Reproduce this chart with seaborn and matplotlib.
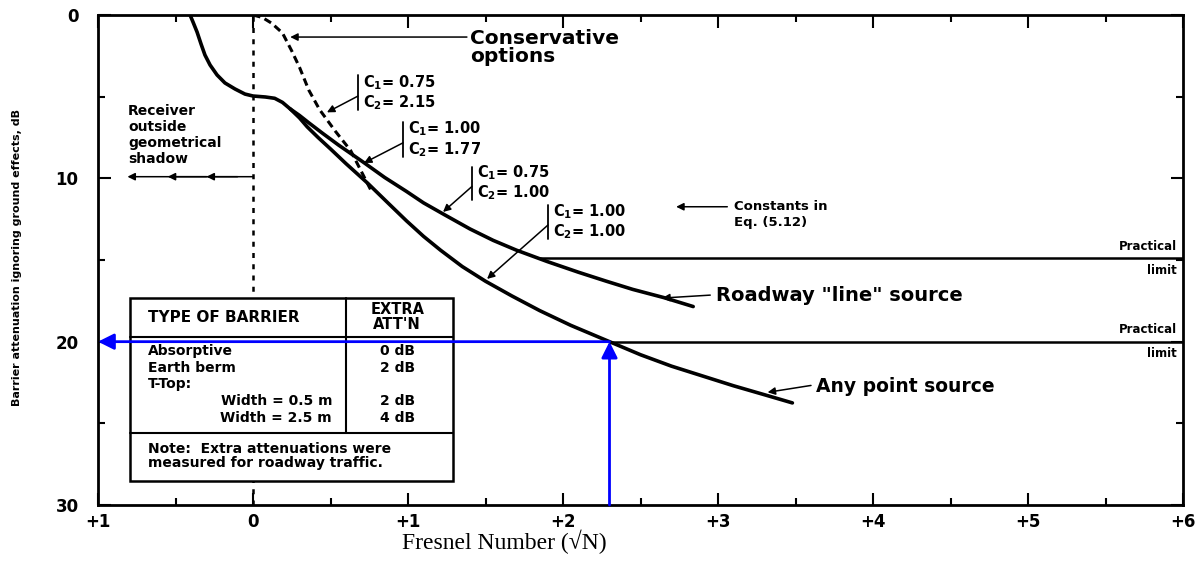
import numpy as np
import pandas as pd
import matplotlib
matplotlib.use("Agg")
import matplotlib.pyplot as plt
from matplotlib.patches import Rectangle
import seaborn as sns

# curves (x = Fresnel number sqrt(N), y = attenuation dB)
point_x = [-0.406, -0.387, -0.361, -0.335, -0.31, -0.277, -0.232, -0.181, -0.116, -0.052, 0.0,
           0.08, 0.14, 0.19, 0.24, 0.30, 0.35, 0.42, 0.5, 0.6, 0.74, 0.87, 0.99, 1.1, 1.21,
           1.35, 1.5, 1.67, 1.85, 2.05, 2.3, 2.5, 2.7, 2.9, 3.1, 3.3, 3.48]
point_y = [0.0, 0.43, 1.04, 1.78, 2.45, 3.06, 3.67, 4.16, 4.53, 4.84, 4.96,
           5.02, 5.1, 5.35, 5.75, 6.3, 6.85, 7.5, 8.2, 9.1, 10.3, 11.5, 12.6, 13.55, 14.4,
           15.4, 16.3, 17.2, 18.1, 19.0, 20.0, 20.8, 21.5, 22.1, 22.7, 23.25, 23.75]

line_x = [0.24, 0.30, 0.36, 0.45, 0.55, 0.71, 0.85, 0.99, 1.1, 1.23, 1.4, 1.55, 1.70,
          1.9, 2.1, 2.28, 2.45, 2.65, 2.84]
line_y = [5.75, 6.15, 6.6, 7.25, 7.95, 9.0, 9.95, 10.8, 11.5, 12.2, 13.1, 13.8, 14.4,
          15.1, 15.75, 16.3, 16.8, 17.3, 17.85]

cons_x = [0.0, 0.06, 0.12, 0.19, 0.25, 0.30, 0.36, 0.43, 0.53, 0.63, 0.77]
cons_y = [0.0, 0.15, 0.5, 1.1, 2.2, 3.2, 4.6, 5.8, 7.1, 8.3, 10.9]

limit_y = [14.9, 20.0]
limit_start = [1.85, 2.3]

lookup_x = 2.3
lookup_y = 20.0

x_ticks = [-1, 0, 1, 2, 3, 4, 5, 6]
x_ticklabels = ["+1", "0", "+1", "+2", "+3", "+4", "+5", "+6"]
y_ticks = [0, 10, 20, 30]

c_labels = [("0.75", "2.15"), ("1.00", "1.77"), ("0.75", "1.00"), ("1.00", "1.00")]

barrier_types = ["Absorptive", "Earth berm", "T-Top:", "Width = 0.5 m", "Width = 2.5 m"]
extra_att = ["0 dB", "2 dB", "", "2 dB", "4 dB"]

sns.set_style("ticks")
plt.rcParams["font.family"] = ["DejaVu Sans"]
plt.rcParams["font.weight"] = "bold"
plt.rcParams["text.color"] = "black"
plt.rcParams["xtick.color"] = "black"
plt.rcParams["ytick.color"] = "black"

fig = plt.figure(figsize=(12.01, 5.77), dpi=100)
ax = fig.add_axes([98 / 1201, 1 - 505 / 577, 1085 / 1201, 490 / 577])

df_point = pd.DataFrame({"x": point_x, "y": point_y})
df_line = pd.DataFrame({"x": line_x, "y": line_y})
df_cons = pd.DataFrame({"x": cons_x, "y": cons_y})

sns.lineplot(data=df_point, x="x", y="y", sort=False, estimator=None, color="black", lw=2.6, ax=ax)
sns.lineplot(data=df_line, x="x", y="y", sort=False, estimator=None, color="black", lw=2.6, ax=ax)
sns.lineplot(data=df_cons, x="x", y="y", sort=False, estimator=None, color="black", lw=2.2,
             linestyle=(0, (2.5, 1.5)), ax=ax)

ax.axvline(0, color="black", lw=1.8, linestyle=(0, (2, 2.5)))
for ly, lx in zip(limit_y, limit_start):
    ax.plot([lx, 6], [ly, ly], color="black", lw=1.8)

ax.set_xlim(-1, 6)
ax.set_ylim(30, 0)
ax.set_xticks(x_ticks)
ax.set_xticklabels(x_ticklabels, fontsize=12, fontweight="bold")
ax.set_xticks(np.arange(-0.5, 6, 1.0), minor=True)
ax.set_yticks(y_ticks)
ax.set_yticklabels([str(v) for v in y_ticks], fontsize=12, fontweight="bold")
ax.set_yticks([5, 15, 25], minor=True)
ax.tick_params(which="both", direction="in", top=True, right=True, width=1.5, color="black")
ax.tick_params(which="major", length=9)
ax.tick_params(which="minor", length=5)
ax.tick_params(axis="y", pad=14)
ax.tick_params(axis="x", pad=6)
ax.set_xlabel("")
ax.set_ylabel("")
for s in ax.spines.values():
    s.set_linewidth(2)
    s.set_color("black")

arrow = dict(arrowstyle="-|>", color="black", lw=1.1, mutation_scale=11, shrinkA=0, shrinkB=0)

# conservative options
ax.text(1.40, 2.0, "Conservative\noptions", fontsize=14.5, fontweight="bold", va="center",
        ha="left", linespacing=0.9)
ax.annotate("", xy=(0.24, 1.35), xytext=(1.38, 1.35), arrowprops=arrow)

# constant labels with brackets
c_pos = [(0.677, 3.69, 5.84, (0.477, 5.96)), (0.968, 6.58, 8.67, (0.716, 9.06)),
         (1.413, 9.28, 11.31, (1.226, 12.06)), (1.903, 11.62, 13.7, (1.51, 16.16))]
for (c1, c2), (bx, y0, y1, tip) in zip(c_labels, c_pos):
    ax.plot([bx, bx], [y0, y1], color="black", lw=1.3)
    ym = (y0 + y1) / 2
    ax.text(bx + 0.03, ym - 0.65, r"$\mathbf{C}_{\mathbf{1}}$= " + c1, fontsize=10.5,
            fontweight="bold", va="center")
    ax.text(bx + 0.03, ym + 0.6, r"$\mathbf{C}_{\mathbf{2}}$= " + c2, fontsize=10.5,
            fontweight="bold", va="center")
    ax.annotate("", xy=tip, xytext=(bx, ym + 0.2), arrowprops=arrow)

ax.text(3.10, 12.2, "Constants in\nEq. (5.12)", fontsize=9.5, fontweight="bold", va="center",
        linespacing=1.3)
ax.annotate("", xy=(2.73, 11.74), xytext=(3.06, 11.74), arrowprops=arrow)

ax.text(2.99, 17.2, "Roadway \"line\" source", fontsize=14, fontweight="bold", va="center")
ax.annotate("", xy=(2.64, 17.33), xytext=(2.95, 17.15), arrowprops=arrow)
ax.text(3.63, 22.75, "Any point source", fontsize=13.5, fontweight="bold", va="center")
ax.annotate("", xy=(3.32, 23.1), xytext=(3.6, 22.68), arrowprops=arrow)

for ly in limit_y:
    ax.text(5.96, ly - 0.75, "Practical", fontsize=8.5, fontweight="bold", ha="right", va="center")
    ax.text(5.96, ly + 0.75, "limit", fontsize=8.5, fontweight="bold", ha="right", va="center")

# receiver outside shadow
ax.text(-0.806, 7.35, "Receiver\noutside\ngeometrical\nshadow", fontsize=10, fontweight="bold",
        va="center", ha="left", linespacing=1.2)
ax.annotate("", xy=(-0.81, 9.9), xytext=(0, 9.9), arrowprops=arrow)
ax.annotate("", xy=(-0.55, 9.9), xytext=(-0.3, 9.9), arrowprops=arrow)
ax.annotate("", xy=(-0.3, 9.9), xytext=(-0.1, 9.9), arrowprops=arrow)

# barrier table
tl, tr, tt, tb = -0.794, 1.29, 17.33, 28.5
col, hb, nb = 0.60, 19.73, 25.6
ax.add_patch(Rectangle((tl, tt), tr - tl, tb - tt, facecolor="white", edgecolor="black", lw=1.8,
                       zorder=3))
ax.plot([col, col], [tt, nb], color="black", lw=1.5, zorder=4)
ax.plot([tl, tr], [hb, hb], color="black", lw=1.5, zorder=4)
ax.plot([tl, tr], [nb, nb], color="black", lw=1.5, zorder=4)
ax.text(-0.677, 18.5, "TYPE OF BARRIER", fontsize=11, fontweight="bold", va="center", zorder=5)
ax.text(0.93, 18.5, "EXTRA\nATT'N", fontsize=10.5, fontweight="bold", va="center", ha="center",
        linespacing=0.95, zorder=5)
row_y = [20.6, 21.6, 22.6, 23.65, 24.65]
for i, (bt, ea) in enumerate(zip(barrier_types, extra_att)):
    if bt.startswith("Width"):
        ax.text(0.51, row_y[i], bt, fontsize=10, fontweight="bold", va="center", ha="right", zorder=5)
    else:
        ax.text(-0.677, row_y[i], bt, fontsize=10, fontweight="bold", va="center", zorder=5)
    ax.text(0.93, row_y[i], ea, fontsize=10, fontweight="bold", va="center", ha="center", zorder=5)
ax.text(-0.677, 27.0, "Note:  Extra attenuations were\nmeasured for roadway traffic.",
        fontsize=10, fontweight="bold", va="center", linespacing=1.0, zorder=5)

# blue lookup arrows
blue = dict(arrowstyle="-|>", color="#0000ff", lw=2, mutation_scale=24, shrinkA=0, shrinkB=0)
ax.annotate("", xy=(lookup_x, lookup_y), xytext=(lookup_x, 30), arrowprops=blue, zorder=6)
ax.annotate("", xy=(-1, lookup_y), xytext=(lookup_x, lookup_y), arrowprops=blue, zorder=6)

fig.text(17 / 1201, 1 - 258 / 577, "Barrier attenuation ignoring ground effects, dB", rotation=90,
         fontsize=8, fontweight="bold", ha="center", va="center")
fig.text(504 / 1201, 1 - 549 / 577, "Fresnel Number (\u221aN)", fontsize=17,
         family=["Liberation Serif", "DejaVu Serif"], fontweight="normal",
         ha="center", va="baseline")

fig.savefig("out.png", dpi=100, facecolor="white")
